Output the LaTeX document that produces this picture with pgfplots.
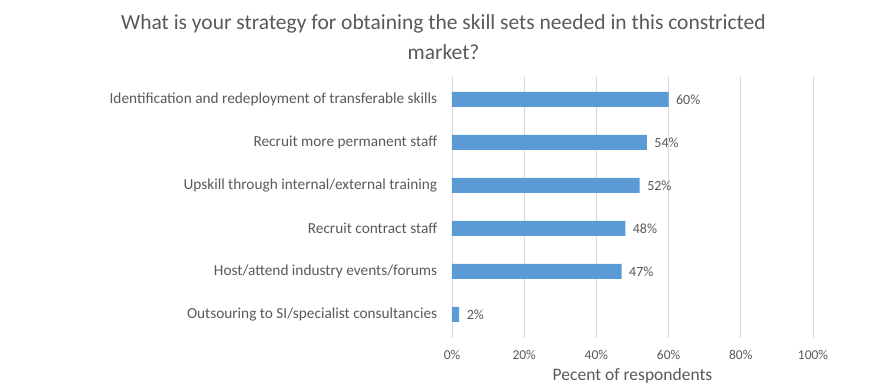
\documentclass[border=0pt]{standalone}
\usepackage{fontspec}
\setmainfont{Carlito}
\usepackage{pgfplots}
\pgfplotsset{compat=1.18}
\definecolor{barblue}{HTML}{5B9BD5}
\definecolor{txtgray}{HTML}{595959}
\definecolor{gridgray}{HTML}{D9D9D9}
\begin{document}
\begin{tikzpicture}[x=1pt,y=1pt]
\path[use as bounding box] (0,0) rectangle (887,388);
\node[text=txtgray, font=\fontsize{21.5}{30}\selectfont, align=center] at (443.5,351) {What is your strategy for obtaining the skill sets needed in this constricted\\market?};
\begin{axis}[
  at={(452pt,50pt)}, anchor=south west,
  scale only axis, width=361pt, height=262.3pt,
  xmin=0, xmax=100, ymin=-0.55, ymax=5.55,
  y dir=reverse,
  xbar, bar width=15pt,
  axis line style={draw=none},
  xmajorgrids, grid style={gridgray, line width=0.8pt},
  xtick={0,20,40,60,80,100},
  xticklabel={\pgfmathprintnumber{\tick}\%},
  xticklabel style={text=txtgray, font=\fontsize{13.5}{15}\selectfont, yshift=-9pt},
  ytick={0,1,2,3,4,5},
  yticklabels={Identification and redeployment of transferable skills, Recruit more permanent staff, Upskill through internal/external training, Recruit contract staff, Host/attend industry events/forums, Outsouring to SI/specialist consultancies},
  yticklabel style={text=txtgray, font=\fontsize{15.3}{17}\selectfont, xshift=-7pt},
  major tick style={draw=none},
  xlabel={Pecent of respondents},
  xlabel style={text=txtgray, font=\fontsize{17.5}{19}\selectfont, yshift=-2pt},
  /pgf/number format/assume math mode=true,
  nodes near coords={\pgfmathprintnumber{\pgfplotspointmeta}\%},
  nodes near coords style={text=txtgray, font=\fontsize{14}{16}\selectfont, anchor=west, xshift=4pt},
]
\addplot[fill=barblue, draw=none] coordinates {(60,0) (54,1) (52,2) (48,3) (47,4) (2,5)};
\end{axis}
\end{tikzpicture}
\end{document}
